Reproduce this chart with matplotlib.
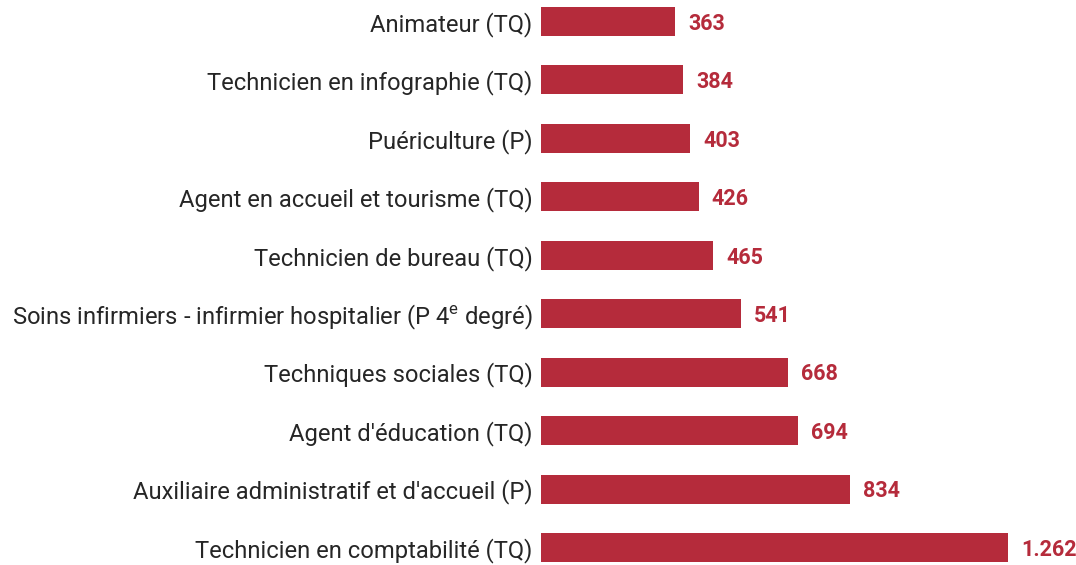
import matplotlib.pyplot as plt

plt.rcParams['font.family'] = ['Roboto', 'DejaVu Sans']
plt.rcParams['mathtext.fontset'] = 'custom'
plt.rcParams['mathtext.rm'] = 'Roboto'
plt.rcParams['mathtext.it'] = 'Roboto'

labels = [
    "Animateur (TQ)",
    "Technicien en infographie (TQ)",
    "Puériculture (P)",
    "Agent en accueil et tourisme (TQ)",
    "Technicien de bureau (TQ)",
    r"Soins infirmiers - infirmier hospitalier (P 4$^{\mathrm{e}}$ degré)",
    "Techniques sociales (TQ)",
    "Agent d'éducation (TQ)",
    "Auxiliaire administratif et d'accueil (P)",
    "Technicien en comptabilité (TQ)",
]
values = [363, 384, 403, 426, 465, 541, 668, 694, 834, 1262]

bar_color = '#b52b3b'

fig = plt.figure(figsize=(10.76, 5.65), dpi=100)
ax = fig.add_axes([541 / 1076, 0, 535 / 1076, 1])

pos = list(range(len(values)))
ax.barh(pos, values, height=0.496, color=bar_color)

for p, v in zip(pos, values):
    txt = f"{v:,}".replace(",", ".")
    ax.text(v + 35, p + 0.04, txt, va='center', ha='left', fontsize=15.5,
            fontweight='bold', color=bar_color)

ax.set_xlim(0, 1446)
ax.set_ylim(9.30, -0.368)
ax.set_yticks(pos)
ax.set_yticklabels(labels, fontsize=17.1, color='#262626')
ax.tick_params(axis='y', length=0, pad=6)
ax.set_xticks([])
for s in ax.spines.values():
    s.set_visible(False)

fig.savefig('out.png', dpi=100)
